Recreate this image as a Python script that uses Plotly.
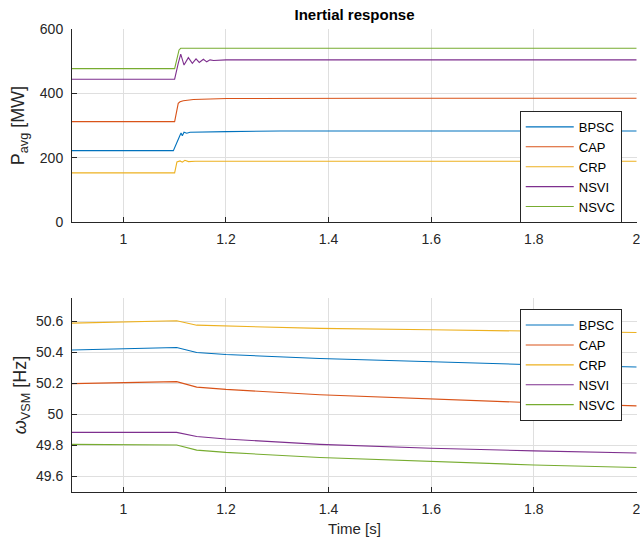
import plotly.graph_objects as go

# ---------------- data ----------------
series_names = ["BPSC", "CAP", "CRP", "NSVI", "NSVC"]
colors = ["#0072BD", "#D95319", "#EDB120", "#7E2F8E", "#77AC30"]

# Top panel: averaged active power [MW]
t_bpsc = [0.9, 1.0, 1.0975, 1.1105, 1.1125, 1.115, 1.1183, 1.1236, 1.13, 1.2016, 1.305, 1.5, 1.7, 2.0]
p_bpsc = [222, 222, 222, 270, 277, 268, 279, 276, 279, 281, 283, 283, 283, 283]

t_cap = [0.9, 1.0, 1.1, 1.107, 1.1105, 1.117, 1.1365, 1.2016, 1.305, 1.5, 1.7, 2.0]
p_cap = [312, 312, 312, 369, 374, 377, 381, 384, 385, 385, 385, 385]

t_crp = [0.9, 1.0, 1.1, 1.1045, 1.1105, 1.115, 1.12, 1.127, 1.14, 1.3, 1.6, 2.0]
p_crp = [153, 153, 153, 187, 190, 186, 192, 188, 189, 189, 189, 189]

t_nsvi = [0.9, 1.0, 1.1, 1.107, 1.1119, 1.1183, 1.1267, 1.1345, 1.1417, 1.148, 1.156,
          1.1626, 1.169, 1.176, 1.2, 1.4, 1.7, 2.0]
p_nsvi = [444, 444, 444, 493, 522, 488, 511, 493, 507, 496, 506, 498, 504, 502, 504, 504, 504, 504]

t_nsvc = [0.9, 1.0, 1.1, 1.1086, 1.1119, 1.2, 1.5, 2.0]
p_nsvc = [477, 477, 477, 535, 540, 540, 540, 540]

# Bottom panel: VSM frequency [Hz]
t_w = [0.9, 1.0, 1.104, 1.143, 1.2, 1.383, 1.6, 1.8, 2.0]
w_bpsc = [50.415, 50.425, 50.431, 50.399, 50.386, 50.360, 50.338, 50.320, 50.305]
w_cap = [50.198, 50.204, 50.211, 50.176, 50.161, 50.127, 50.098, 50.075, 50.055]
w_crp = [50.588, 50.595, 50.603, 50.575, 50.569, 50.554, 50.545, 50.536, 50.528]
w_nsvi = [49.884, 49.884, 49.884, 49.858, 49.841, 49.807, 49.782, 49.765, 49.751]
w_nsvc = [49.807, 49.805, 49.803, 49.770, 49.755, 49.722, 49.695, 49.674, 49.658]

x_ticks = [1, 1.2, 1.4, 1.6, 1.8, 2]
x_ticklabels = ["1", "1.2", "1.4", "1.6", "1.8", "2"]
p_ticks = [0, 200, 400, 600]
w_ticks = [49.6, 49.8, 50, 50.2, 50.4, 50.6]
w_ticklabels = ["49.6", "49.8", "50", "50.2", "50.4", "50.6"]

# ---------------- figure ----------------
FONT = "Liberation Sans, Arial, Helvetica, sans-serif"
fig = go.Figure()

top_t = [t_bpsc, t_cap, t_crp, t_nsvi, t_nsvc]
top_p = [p_bpsc, p_cap, p_crp, p_nsvi, p_nsvc]
for name, c, tt, pp in zip(series_names, colors, top_t, top_p):
    fig.add_trace(go.Scatter(x=tt, y=pp, mode="lines", name=name,
                             line=dict(color=c, width=1.1),
                             xaxis="x", yaxis="y", legend="legend"))

bot_w = [w_bpsc, w_cap, w_crp, w_nsvi, w_nsvc]
for name, c, ww in zip(series_names, colors, bot_w):
    fig.add_trace(go.Scatter(x=t_w, y=ww, mode="lines", name=name,
                             line=dict(color=c, width=1.1),
                             xaxis="x2", yaxis="y2", legend="legend2"))

axis_common = dict(showline=True, linecolor="#262626", linewidth=1,
                   ticks="inside", ticklen=5, tickcolor="#262626",
                   showgrid=True, gridcolor="#dfdfdf", gridwidth=1,
                   zeroline=False, mirror=False, automargin=False,
                   ticklabeloverflow="allow",
                   tickfont=dict(family=FONT, size=14, color="#262626"))

W, H = 640, 540
X_RANGE = [0.9, 2.001]
fig.update_layout(
    width=W, height=H,
    margin=dict(l=72, r=3, t=29, b=48),
    paper_bgcolor="white", plot_bgcolor="white",
    font=dict(family=FONT, color="#262626"),
    title=dict(text="<b>Inertial response</b>", x=(72 + 637) / 2 / W, xanchor="center",
               y=1 - 15 / H, yanchor="middle", automargin=False,
               font=dict(size=15, color="#000000")),
    xaxis=dict(domain=[0, 1], range=X_RANGE, tickvals=x_ticks, ticktext=x_ticklabels,
               anchor="y", ticklabelstandoff=4, **axis_common),
    yaxis=dict(domain=[0.583, 1.0], range=[0, 600], tickvals=p_ticks, anchor="x",
               ticklabelstandoff=5,
               title=dict(text="P<sub>avg</sub> [MW]", font=dict(size=18), standoff=10),
               **axis_common),
    xaxis2=dict(domain=[0, 1], range=X_RANGE, tickvals=x_ticks, ticktext=x_ticklabels,
                anchor="y2", ticklabelstandoff=4,
                title=dict(text="Time [s]", font=dict(size=15), standoff=7),
                **axis_common),
    yaxis2=dict(domain=[0, 0.419], range=[49.5, 50.75], tickvals=w_ticks,
                ticktext=w_ticklabels, anchor="x2", ticklabelstandoff=5,
                title=dict(text="<i>ω</i><sub>VSM</sub> [Hz]", font=dict(size=18), standoff=4),
                **axis_common),
    legend=dict(x=0.973, xanchor="right", y=0.823, yanchor="top",
                bgcolor="white", bordercolor="#262626", borderwidth=1,
                font=dict(family=FONT, size=13, color="#000000"),
                itemwidth=48, tracegroupgap=0),
    legend2=dict(x=0.973, xanchor="right", y=0.395, yanchor="top",
                 bgcolor="white", bordercolor="#262626", borderwidth=1,
                 font=dict(family=FONT, size=13, color="#000000"),
                 itemwidth=48, tracegroupgap=0),
)

# Remove the default page margin so the 640x540 figure fills the window exactly.
fig.write_html("out.html",
               config={"displayModeBar": False},
               post_script="document.body.style.margin='0';"
                           "document.body.style.overflow='hidden';")
